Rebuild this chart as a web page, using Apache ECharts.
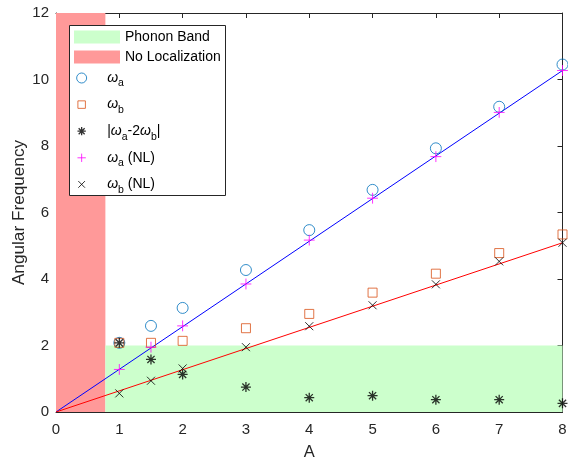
<!DOCTYPE html>
<html>
<head>
<meta charset="utf-8">
<script src="https://cdn.jsdelivr.net/npm/echarts@6/dist/echarts.min.js"></script>
<style>html,body{margin:0;padding:0;background:#fff;}#c{width:568px;height:460px;}</style>
</head>
<body>
<div id="c"></div>
<script>
// ---- data ----
const xA = [1, 1.5, 2, 3, 4, 5, 6, 7, 8];
const omegaA = [2.08, 2.59, 3.13, 4.27, 5.47, 6.68, 7.93, 9.18, 10.45];
const omegaB = [2.08, 2.08, 2.14, 2.52, 2.95, 3.59, 4.16, 4.78, 5.34];
const diffAB = [2.08, 1.58, 1.13, 0.75, 0.43, 0.49, 0.37, 0.37, 0.26];
const omegaANL = [1.28, 1.95, 2.59, 3.85, 5.17, 6.43, 7.68, 9.01, 10.27];
const omegaBNL = [0.56, 0.94, 1.31, 1.95, 2.58, 3.21, 3.84, 4.53, 5.09];
const fitX = [0, 8];
const fitBlue = [0, 10.27];
const fitRed = [0, 5.09];
const phononBandX = [0.78, 8];
const phononBandTop = 2;
const noLocX = [0, 0.78];
const noLocTop = 12;
const xTicks = [0, 1, 2, 3, 4, 5, 6, 7, 8];
const yTicks = [0, 2, 4, 6, 8, 10, 12];

const pair = (xs, ys) => xs.map((x, i) => [x, ys[i]]);
const FONT = "'Liberation Sans', Arial, Helvetica, sans-serif";
const AX = '#262626';

const legendLabels = {
  wa: '{w|ω}{s|a}',
  wb: '{w|ω}{s|b}',
  diff: '|{w|ω}{s|a}-2{w|ω}{s|b}|',
  waNL: '{w|ω}{s|a} (NL)',
  wbNL: '{w|ω}{s|b} (NL)'
};

// symbols drawn inside a common 12x12 frame (the leading moveTos set the frame)
const FRAME = 'M-6,-6M6,6';
const SQUARE = 'path://' + FRAME + 'M-4.5,-4.5L4.5,-4.5L4.5,4.5L-4.5,4.5Z';
const STAR = 'path://' + FRAME + 'M0,-5L0,5M-5,0L5,0M-3.6,-3.6L3.6,3.6M-3.6,3.6L3.6,-3.6';
const PLUS = 'path://' + FRAME + 'M0,-5L0,5M-5,0L5,0';
const CROSS = 'path://' + FRAME + 'M-4,-4L4,4M-4,4L4,-4';

const chart = echarts.init(document.getElementById('c'), null, {renderer: 'canvas'});

const baseAxis = {
  axisLine: {show: true, onZero: false, lineStyle: {color: AX, width: 1}},
  axisTick: {show: true, inside: true, length: 5, lineStyle: {color: AX}},
  splitLine: {show: false}
};

const option = {
  backgroundColor: '#fff',
  animation: false,
  grid: {left: 56, right: 5.5, top: 13, bottom: 48, containLabel: false, outerBoundsMode: 'none'},
  xAxis: [
    Object.assign({}, baseAxis, {
      type: 'value', min: 0, max: 8, interval: 1, position: 'bottom',
      name: 'A', nameLocation: 'middle', nameGap: 32, nameMoveOverlap: false,
      nameTextStyle: {color: AX, fontSize: 16.5, fontFamily: FONT},
      axisLabel: {color: AX, fontSize: 15, fontFamily: FONT, margin: 10,
        formatter: v => xTicks.includes(v) ? String(v) : ''}
    }),
    Object.assign({}, baseAxis, {
      type: 'value', min: 0, max: 8, interval: 1, position: 'top',
      axisLabel: {show: false}
    })
  ],
  yAxis: [
    Object.assign({}, baseAxis, {
      type: 'value', min: 0, max: 12, interval: 2, position: 'left',
      name: 'Angular Frequency', nameLocation: 'middle', nameGap: 28, nameMoveOverlap: false,
      nameTextStyle: {color: AX, fontSize: 17.2, fontFamily: FONT},
      axisLabel: {color: AX, fontSize: 15, fontFamily: FONT, margin: 7,
        formatter: v => yTicks.includes(v) ? String(v) : ''}
    }),
    Object.assign({}, baseAxis, {
      type: 'value', min: 0, max: 12, interval: 2, position: 'right',
      axisLabel: {show: false}
    })
  ],
  legend: [
    {
      data: [
        {name: 'Phonon Band', icon: 'rect', itemStyle: {color: '#ccffcc', borderWidth: 0}},
        {name: 'No Localization', icon: 'rect', itemStyle: {color: '#ff9999', borderWidth: 0}}
      ],
      orient: 'vertical', left: 74, top: 30, padding: 0,
      itemWidth: 46, itemHeight: 13, itemGap: 6,
      textStyle: {color: '#000', fontSize: 14, fontFamily: FONT},
      z: 10
    },
    {
      data: [
        {name: 'wa', itemStyle: {color: 'transparent', borderColor: '#0072BD', borderWidth: 1}},
        {name: 'wb', itemStyle: {color: 'transparent', borderColor: '#D95319', borderWidth: 1}},
        {name: 'diff', itemStyle: {color: 'transparent', borderColor: '#000', borderWidth: 1.3}},
        {name: 'waNL', itemStyle: {color: 'transparent', borderColor: '#ff00ff', borderWidth: 1}},
        {name: 'wbNL', itemStyle: {color: 'transparent', borderColor: '#000', borderWidth: 1}}
      ],
      orient: 'vertical', left: 76, top: 71, padding: 0,
      itemWidth: 41, itemHeight: 10, itemGap: 8.6,
      symbolKeepAspect: true,
      formatter: n => legendLabels[n] || n,
      textStyle: {
        color: '#000', fontSize: 14, fontFamily: FONT,
        rich: {
          w: {fontSize: 14, fontStyle: 'italic', fontFamily: FONT, color: '#000'},
          s: {fontSize: 10.5, fontFamily: FONT, color: '#000', padding: [11, 0, 0, 0], verticalAlign: 'bottom'}
        }
      },
      z: 10
    }
  ],
  graphic: [
    {type: 'rect', shape: {x: 69.5, y: 25.5, width: 156, height: 170},
     style: {fill: '#fff', stroke: AX, lineWidth: 1}, z: 5, silent: true}
  ],
  series: [
    {name: 'No Localization', type: 'line', data: pair(noLocX, [noLocTop, noLocTop]),
     symbol: 'none', lineStyle: {width: 0}, itemStyle: {color: '#ff9999'},
     areaStyle: {color: '#ff9999', opacity: 1}, z: 1, silent: true},
    {name: 'Phonon Band', type: 'line', data: pair(phononBandX, [phononBandTop, phononBandTop]),
     symbol: 'none', lineStyle: {width: 0}, itemStyle: {color: '#ccffcc'},
     areaStyle: {color: '#ccffcc', opacity: 1}, z: 1, silent: true},
    {name: 'fitA', type: 'line', data: pair(fitX, fitBlue), symbol: 'none',
     lineStyle: {color: '#0000ff', width: 1}, z: 2, silent: true},
    {name: 'fitB', type: 'line', data: pair(fitX, fitRed), symbol: 'none',
     lineStyle: {color: '#ff0000', width: 1}, z: 2, silent: true},
    {name: 'wa', type: 'scatter', data: pair(xA, omegaA), symbol: 'circle', symbolSize: 11,
     itemStyle: {color: 'transparent', borderColor: '#0072BD', borderWidth: 1}, z: 3},
    {name: 'wb', type: 'scatter', data: pair(xA, omegaB), symbol: SQUARE, symbolSize: 12,
     itemStyle: {color: 'transparent', borderColor: '#D95319', borderWidth: 1}, z: 3},
    {name: 'diff', type: 'scatter', data: pair(xA, diffAB), symbol: STAR, symbolSize: 12,
     itemStyle: {color: 'transparent', borderColor: '#000', borderWidth: 1.3}, z: 3},
    {name: 'waNL', type: 'scatter', data: pair(xA, omegaANL), symbol: PLUS, symbolSize: 13,
     itemStyle: {color: 'transparent', borderColor: '#ff00ff', borderWidth: 1}, z: 3},
    {name: 'wbNL', type: 'scatter', data: pair(xA, omegaBNL), symbol: CROSS, symbolSize: 12,
     itemStyle: {color: 'transparent', borderColor: '#000', borderWidth: 1}, z: 3}
  ]
};
chart.setOption(option);
</script>
</body>
</html>
